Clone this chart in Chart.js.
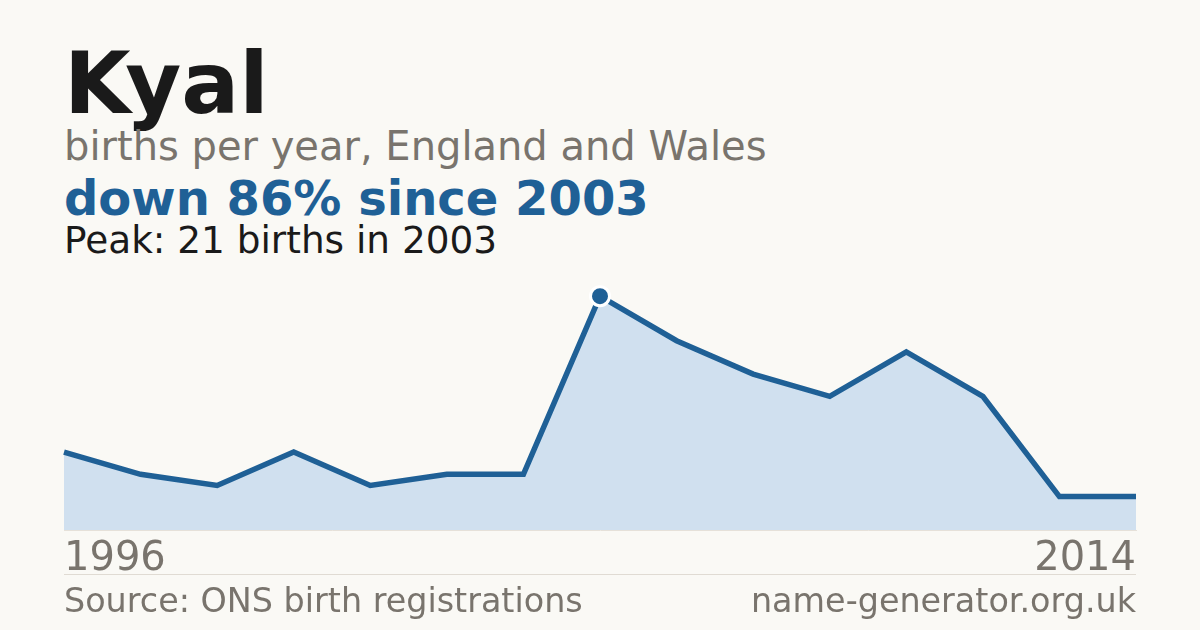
<!DOCTYPE html>
<html>
<head>
<meta charset="utf-8">
<script src="https://cdn.jsdelivr.net/npm/chart.js@4"></script>
<style>
	html, body { margin: 0; padding: 0; }
	body {
		width: 1200px;
		height: 630px;
		background: #faf9f5;
		font-family: 'DejaVu Sans', sans-serif;
		position: relative;
		overflow: hidden;
	}
	.txt { position: absolute; left: 64px; white-space: nowrap; line-height: 1; }
	#title { top: 40px; font-size: 86px; font-weight: bold; color: #1a1a1a; }
	#subtitle { top: 126px; font-size: 40px; color: #79746d; }
	#headline { top: 174px; font-size: 48px; font-weight: bold; color: #1f6096; }
	#peak { top: 222px; font-size: 37.4px; color: #1a1a1a; }
	#divider { position: absolute; left: 64px; width: 1072px; top: 574px; height: 1px; background: #e0dbd3; }
	#source { top: 584px; font-size: 33.4px; color: #79746d; }
	#site { top: 584px; left: auto; right: 64px; font-size: 33.4px; color: #79746d; }
	#chart_box { position: absolute; left: 0; top: 0; width: 1200px; height: 630px; }
</style>
</head>
<body>
<div id="title" class="txt">Kyal</div>
<div id="subtitle" class="txt">births per year, England and Wales</div>
<div id="headline" class="txt">down 86% since 2003</div>
<div id="peak" class="txt">Peak: 21 births in 2003</div>
<div id="chart_box"><canvas id="name_chart"></canvas></div>
<div id="divider"></div>
<div id="source" class="txt">Source: ONS birth registrations</div>
<div id="site" class="txt">name-generator.org.uk</div>

<script>
// years with recorded births (only first and last are labelled)
const years = ['1996', '1997', '1998', '1999', '2000', '2001', '2002', '2003',
	'2004', '2005', '2006', '2007', '2008', '2013', '2014']
const births = [7, 5, 4, 7, 4, 5, 5, 21, 17, 14, 12, 16, 12, 3, 3]

const peakIndex = births.indexOf(Math.max(...births))

const BLUE = '#1f6096'

const options = {
	type: 'line',
	data: {
		labels: years,
		datasets: [
			{
				data: births,
				borderColor: BLUE,
				borderWidth: 5.5,
				backgroundColor: '#d0e0ef',
				fill: 'origin',
				tension: 0,
				// only mark the peak year
				pointRadius: ctx => (ctx.dataIndex === peakIndex ? 9.5 : 0),
				pointBackgroundColor: BLUE,
				pointBorderColor: '#ffffff',
				pointBorderWidth: 3,
				pointHoverRadius: 0,
			},
		],
	},
	options: {
		responsive: false,
		animation: false,
		events: [],
		layout: {
			padding: { left: 64, right: 64, top: 285, bottom: 40 },
		},
		plugins: {
			legend: { display: false },
			tooltip: { enabled: false },
		},
		scales: {
			x: {
				offset: false,
				grid: { display: false, drawTicks: false },
				border: { display: true, color: '#e6e1d9', width: 1 },
				ticks: {
					autoSkip: false,
					maxRotation: 0,
					align: 'inner',
					padding: 6,
					color: '#79746d',
					font: { family: 'DejaVu Sans', size: 40 },
					callback: (value, index) =>
						index === 0 || index === years.length - 1 ? years[index] : '',
				},
			},
			y: {
				display: false,
				min: 0,
				max: 22,
			},
		},
	},
}

const canvas = document.getElementById('name_chart')
canvas.width = 1200
canvas.height = 630
const nameChart = new Chart(canvas, options)
</script>
</body>
</html>
